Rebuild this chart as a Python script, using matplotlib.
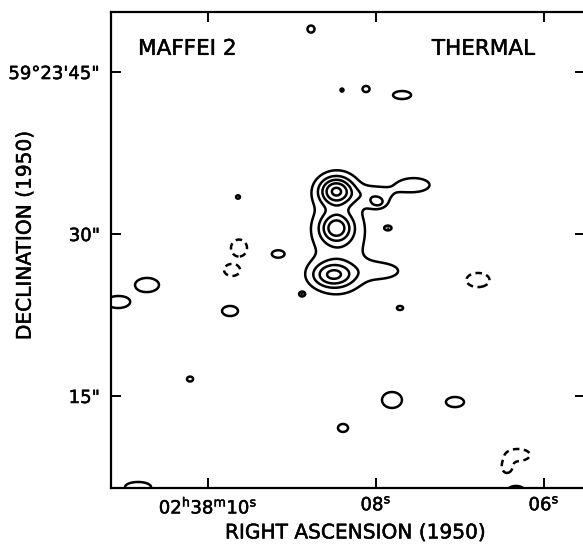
import numpy as np
import matplotlib.pyplot as plt
import matplotlib.patheffects as pe

# Thermal radio emission model of Maffei 2 (1950 coords)
# positions: RA seconds after 02h38m, Dec arcsec after 59d23'
ra_s = [8.476, 8.476, 8.512, 8.429, 8.012, 7.548, 7.976, 7.893,
        8.774, 8.405, 8.119, 7.690, 9.643, 7.857, 9.167, 8.881,
        10.726, 11.071, 9.738, 7.714, 10.214, 7.810, 7.060, 8.393,
        10.833, 6.333,
        9.631, 9.714, 6.786, 6.310, 6.440]
dec_as = [33.98, 30.56, 26.20, 29.63, 33.61, 34.54, 32.87, 26.57,
          48.98, 43.33, 43.43, 42.87, 33.43, 30.56, 28.15, 24.44,
          25.28, 23.70, 22.87, 23.15, 16.57, 14.63, 14.44, 12.04,
          6.57, 6.30,
          28.70, 26.67, 25.74, 9.54, 8.43]
peak = [4.4, 3.4, 3.3, 1.5, 1.3, 1.6, 1.4, 1.2,
        1.8, 1.8, 1.8, 1.8, 1.8, 1.8, 1.8, 1.8,
        1.8, 1.8, 1.8, 1.8, 1.8, 1.8, 1.8, 1.8,
        1.8, 1.8,
        -3, -3, -3, -1.8, -1.8]
# gaussian widths in arcsec (E-W, N-S)
wid_ra = [1.11, 1.02, 1.39, 2.31, 1.39, 1.48, 0.56, 1.67,
          0.30, 0.13, 0.30, 0.77, 0.17, 0.26, 0.51, 0.21,
          1.02, 1.02, 0.68, 0.26, 0.26, 0.85, 0.77, 0.43,
          1.11, 0.68,
          0.50, 0.50, 0.72, 1.02, 0.43]
wid_dec = [0.93, 0.93, 0.83, 4.17, 0.65, 0.65, 0.37, 0.74,
           0.30, 0.13, 0.26, 0.34, 0.145, 0.17, 0.30, 0.17,
           0.60, 0.51, 0.43, 0.17, 0.21, 0.68, 0.43, 0.34,
           0.43, 0.34,
           0.53, 0.375, 0.44, 0.51, 0.51]

levels_pos = [1, 2, 3, 4, 5]
levels_neg = [-1]

arcsec_per_s = 7.78

x = np.linspace(5.3, 11.4, 800)
y = np.linspace(5.5, 52, 700)
X, Y = np.meshgrid(x, y)
Z = np.zeros_like(X)
for x0, y0, a, sx, sy in zip(ra_s, dec_as, peak, wid_ra, wid_dec):
    Z += a * np.exp(-0.5 * (((X - x0) * arcsec_per_s / sx) ** 2 + ((Y - y0) / sy) ** 2))

fig = plt.figure(figsize=(5.83, 5.53), dpi=100)
ax = fig.add_axes([111 / 583, 65 / 553, 474 / 583, 476 / 553])

ax.contour(X, Y, Z, levels=levels_pos, colors='black', linewidths=1.8, linestyles='solid')
ax.contour(X, Y, Z, levels=levels_neg, colors='black', linewidths=1.8, linestyles=[(0, (2.6, 1.8))])

ax.set_xlim(11.155, 5.512)
ax.set_ylim(6.48, 50.56)

ax.set_xticks([10, 8, 6])
ax.set_xticklabels([r'02$^{\rm h}$38$^{\rm m}$10$^{\rm s}$', r'08$^{\rm s}$', r'06$^{\rm s}$'])
ax.set_yticks([45, 30, 15])
ax.set_yticklabels(['59°23\'45"', '30"', '15"'])
ax.tick_params(direction='in', length=7.5, width=1.4, top=True, right=True, labelsize=13)
ax.tick_params(axis='x', pad=6)
ax.tick_params(axis='y', pad=8)
for s in ax.spines.values():
    s.set_linewidth(1.6)

ax.set_xlabel('RIGHT ASCENSION (1950)', fontsize=14.5)
ax.set_ylabel('DECLINATION (1950)', fontsize=14.5)
ax.xaxis.set_label_coords(0.516, -0.0945)
ax.xaxis.label.set_va('center')
ax.yaxis.set_label_coords(-0.181, 0.531)
ax.yaxis.label.set_va('center')

ax.text(0.057, 0.91, 'MAFFEI 2', transform=ax.transAxes, fontsize=15.5, va='baseline')
ax.text(0.677, 0.91, 'THERMAL', transform=ax.transAxes, fontsize=15.5, va='baseline')

# heavier lettering
heavy = [pe.withStroke(linewidth=0.35, foreground='black')]
for t in ax.texts + ax.get_xticklabels() + ax.get_yticklabels() + [ax.xaxis.label, ax.yaxis.label]:
    t.set_path_effects(heavy)

fig.savefig('out.png', dpi=100)
